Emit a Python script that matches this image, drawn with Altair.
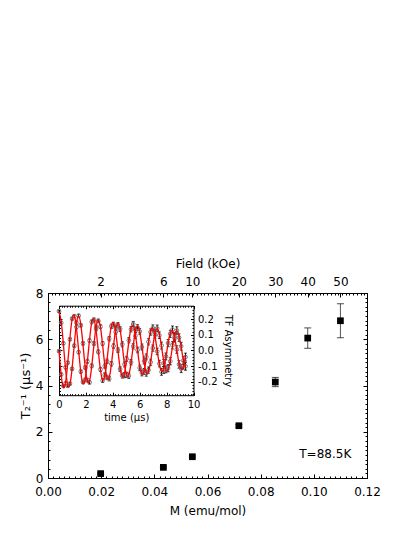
import altair as alt
import pandas as pd

# ---------------- main panel data ----------------
M_emu = [0.0198, 0.0434, 0.0543, 0.0718, 0.0855, 0.0977, 0.1100]
field_kOe = [2, 6, 10, 20, 30, 40, 50]
relax = [0.19, 0.46, 0.92, 2.26, 4.15, 6.05, 6.80]
relax_err = [0.03, 0.03, 0.04, 0.05, 0.20, 0.44, 0.735]
note_text = ["T=88.5K"]
note_M = [0.1043]
note_r = [0.865]

# ---------------- inset data ----------------
t_us = [0.0, 0.162, 0.324, 0.487, 0.649, 0.811, 0.973, 1.136, 1.298, 1.46,
        1.622, 1.784, 1.947, 2.109, 2.271, 2.433, 2.596, 2.758, 2.92, 3.082,
        3.244, 3.407, 3.569, 3.731, 3.893, 4.056, 4.218, 4.38, 4.542, 4.704,
        4.867, 5.029, 5.191, 5.353, 5.516, 5.678, 5.84, 6.002, 6.164, 6.327,
        6.489, 6.651, 6.813, 6.976, 7.138, 7.3, 7.462, 7.624, 7.787, 7.949,
        8.111, 8.273, 8.436, 8.598, 8.76, 8.922, 9.084, 9.247, 9.409]
asym_A = [0.250, 0.177, 0.045, -0.108, -0.225, -0.212, -0.117, 0.030, 0.177,
          0.221, 0.160, 0.045, -0.109, -0.189, -0.203, -0.098, 0.044, 0.149,
          0.188, 0.152, 0.044, -0.100, -0.172, -0.180, -0.085, 0.028, 0.142,
          0.163, 0.136, 0.039, -0.089, -0.155, -0.161, -0.075, 0.026, 0.131,
          0.146, 0.121, 0.022, -0.067, -0.145, -0.125, -0.075, 0.015, 0.113,
          0.141, 0.097, 0.031, -0.080, -0.120, -0.113, -0.069, 0.033, 0.089,
          0.127, 0.082, 0.027, -0.064, -0.101]
asym_B = [-0.004, -0.153, -0.226, -0.210, -0.078, 0.071, 0.202, 0.218, 0.149,
          -0.011, -0.135, -0.201, -0.187, -0.070, 0.063, 0.182, 0.195, 0.137,
          -0.009, -0.121, -0.191, -0.155, -0.069, 0.075, 0.154, 0.166, 0.118,
          0.002, -0.119, -0.160, -0.158, -0.053, 0.065, 0.135, 0.168, 0.094,
          0.003, -0.111, -0.143, -0.134, -0.041, 0.055, 0.117, 0.143, 0.100,
          -0.006, -0.084, -0.136, -0.125, -0.038, 0.047, 0.106, 0.133, 0.077,
          0.006, -0.089, -0.116, -0.094, -0.042]
fit_A = [0.245, 0.185, 0.042, -0.118, -0.219, -0.216, -0.114, 0.039, 0.170,
         0.219, 0.165, 0.037, -0.105, -0.195, -0.193, -0.101, 0.035, 0.151,
         0.195, 0.148, 0.033, -0.094, -0.174, -0.172, -0.090, 0.031, 0.135,
         0.174, 0.132, 0.030, -0.084, -0.156, -0.154, -0.081, 0.028, 0.121,
         0.155, 0.118, 0.026, -0.075, -0.139, -0.137, -0.072, 0.025, 0.108,
         0.139, 0.105, 0.024, -0.067, -0.124, -0.122, -0.064, 0.022, 0.096,
         0.124, 0.094, 0.021, -0.060, -0.111]
fit_B = [0.0, -0.156, -0.235, -0.204, -0.080, 0.079, 0.197, 0.221, 0.142,
         0.0, -0.139, -0.210, -0.182, -0.071, 0.070, 0.176, 0.197, 0.127,
         0.0, -0.124, -0.187, -0.163, -0.063, 0.063, 0.157, 0.176, 0.113,
         0.0, -0.111, -0.167, -0.145, -0.057, 0.056, 0.140, 0.157, 0.101,
         0.0, -0.099, -0.149, -0.130, -0.051, 0.050, 0.125, 0.140, 0.090,
         0.0, -0.088, -0.133, -0.116, -0.045, 0.045, 0.111, 0.125, 0.081,
         0.0, -0.079, -0.119, -0.103, -0.040]
asym_err = [0.008, 0.008, 0.008, 0.009, 0.009, 0.009, 0.009, 0.010, 0.010, 0.010,
            0.010, 0.011, 0.011, 0.011, 0.011, 0.012, 0.012, 0.012, 0.012, 0.013,
            0.013, 0.013, 0.014, 0.014, 0.014, 0.014, 0.015, 0.015, 0.015, 0.016,
            0.016, 0.016, 0.017, 0.017, 0.017, 0.018, 0.018, 0.018, 0.019, 0.019,
            0.019, 0.020, 0.020, 0.020, 0.021, 0.021, 0.021, 0.022, 0.022, 0.022,
            0.023, 0.023, 0.023, 0.024, 0.024, 0.024, 0.025, 0.025, 0.025]

# ---------------- tables ----------------
main_df = pd.DataFrame({
    "M": M_emu, "field": field_kOe, "r": relax,
    "lo": [r - e for r, e in zip(relax, relax_err)],
    "hi": [r + e for r, e in zip(relax, relax_err)],
})
note_df = pd.DataFrame({"M": note_M, "r": note_r, "txt": note_text})
rows = []
for name, ys, fs in (("A", asym_A, fit_A), ("B", asym_B, fit_B)):
    for t, y, f, e in zip(t_us, ys, fs, asym_err):
        rows.append({"t": t, "a": y, "fit": f, "lo": y - e, "hi": y + e, "s": name})
inset_df = pd.DataFrame(rows)

# ---------------- geometry ----------------
W, H = 319, 185
IX0, IX1 = 11.0, 145.5     # inset frame (plot pixels)
IY0, IY1 = 12.7, 102.2
FONT = "DejaVu Sans"


def xm():
    return alt.Scale(domain=[0, 0.12], nice=False, zero=False)


def ym():
    return alt.Scale(domain=[0, 8], nice=False, zero=False)


def xi():
    return alt.Scale(domain=[0, 10], range=[IX0, IX1], nice=False, zero=False)


def yi():
    return alt.Scale(domain=[-0.285, 0.285], range=[IY1, IY0], nice=False, zero=False)


def ax(orient, values, tick, offset, **kw):
    base = dict(orient=orient, values=values, tickSize=tick, offset=offset,
                domain=False, grid=False, labels=False, title=None,
                labelFlush=False, labelOverlap=False, tickColor="black")
    base.update(kw)
    return alt.Axis(**base)


def ghost(df, xf, yf, xs, ys, xa, ya):
    return alt.Chart(df).mark_point(opacity=0).encode(
        x=alt.X(xf, type="quantitative", scale=xs, axis=xa),
        y=alt.Y(yf, type="quantitative", scale=ys, axis=ya),
    )


# tick positions
maj_x = [0, 0.02, 0.04, 0.06, 0.08, 0.10, 0.12]
min_x = [round(i * 0.002, 4) for i in range(61)]
top_min = [round(i * 0.0014, 5) for i in range(86)]
maj_y = [0, 2, 4, 6, 8]
min_yl = [round(i * 0.4, 2) for i in range(21)]
min_yr = [round(i * 0.2, 2) for i in range(41)]
ix_maj = [0, 2, 4, 6, 8, 10]
ix_min = [round(i * 0.2, 1) for i in range(51)]
iy_maj = [-0.2, -0.1, 0.0, 0.1, 0.2]
iy_min = [round(-0.28 + i * 0.02, 2) for i in range(29)]

field_expr = "".join(
    f"abs(datum.value - {m}) < 1e-6 ? '{f}' : " for m, f in zip(M_emu, field_kOe)
) + "''"
minus_expr = "replace(format(datum.value, '.1f'), '\u2212', '-')"

layers = []

# ----- main axes -----
layers.append(ghost(main_df, "M", "r", xm(), ym(),
    ax("bottom", maj_x, 4, -4, labels=True, format=".2f", labelPadding=8,
       labelFontSize=12, title="M (emu/mol)", titleFontSize=12, titlePadding=8),
    ax("left", maj_y, 4, -4, labels=True, format="d", labelPadding=5,
       labelFontSize=12, title="T₂⁻¹ (μs⁻¹)", titleFontSize=13, titlePadding=3)))
layers.append(ghost(main_df, "M", "r", xm(), ym(),
    ax("bottom", min_x, 2, -2), ax("left", min_yl, 2, -2)))
layers.append(ghost(main_df, "M", "r", xm(), ym(),
    ax("top", M_emu, 4, -4, labels=True, labelExpr=field_expr, labelPadding=5,
       labelFontSize=12, title="Field (kOe)", titleFontSize=12, titlePadding=5),
    ax("right", maj_y, 4, -4)))
layers.append(ghost(main_df, "M", "r", xm(), ym(),
    ax("top", top_min, 2, -2), ax("right", min_yr, 2, -2)))

# ----- main data -----
layers.append(alt.Chart(main_df).mark_rule(color="#555555", strokeWidth=1).encode(
    x=alt.X("M:Q", scale=xm(), axis=None),
    y=alt.Y("lo:Q", scale=ym(), axis=None), y2="hi:Q"))
for fld in ("lo", "hi"):
    layers.append(alt.Chart(main_df).mark_tick(
        orient="horizontal", color="black", size=7, thickness=1).encode(
        x=alt.X("M:Q", scale=xm(), axis=None),
        y=alt.Y(f"{fld}:Q", scale=ym(), axis=None)))
layers.append(alt.Chart(main_df).mark_square(color="black", size=45, opacity=1).encode(
    x=alt.X("M:Q", scale=xm(), axis=None),
    y=alt.Y("r:Q", scale=ym(), axis=None)))
layers.append(alt.Chart(note_df).mark_text(
    font=FONT, fontSize=12, color="black", align="center", baseline="alphabetic").encode(
    x=alt.X("M:Q", scale=xm(), axis=None),
    y=alt.Y("r:Q", scale=ym(), axis=None), text="txt:N"))

# ----- inset frame and axes -----
layers.append(ghost(inset_df, "t", "a", xi(), yi(),
    ax("bottom", ix_maj, 0, IY1 - H, domain=True, ticks=False, domainColor="black"),
    ax("left", iy_maj, 0, -IX0, domain=True, ticks=False, domainColor="black")))
layers.append(ghost(inset_df, "t", "a", xi(), yi(),
    ax("top", ix_maj, 0, -IY0, domain=True, ticks=False, domainColor="black"),
    ax("right", iy_maj, 0, IX1 - W, domain=True, ticks=False, domainColor="black")))
layers.append(ghost(inset_df, "t", "a", xi(), yi(),
    ax("bottom", ix_maj, 3, IY1 - 3 - H, labels=True, format="d", labelPadding=4,
       labelFontSize=10, title="time (μs)", titleFontSize=10, titlePadding=3),
    ax("right", iy_maj, 3, IX1 - 3 - W, labels=True, labelExpr=minus_expr, labelPadding=4,
       labelFontSize=10, title="TF Asymmetry", titleFontSize=10, titlePadding=5)))
layers.append(ghost(inset_df, "t", "a", xi(), yi(),
    ax("top", ix_maj, 3, -(IY0 + 3)), ax("left", iy_maj, 3, -(IX0 + 3))))
layers.append(ghost(inset_df, "t", "a", xi(), yi(),
    ax("bottom", ix_min, 1.5, IY1 - 1.5 - H), ax("right", iy_min, 1.5, IX1 - 1.5 - W)))
layers.append(ghost(inset_df, "t", "a", xi(), yi(),
    ax("top", ix_min, 1.5, -(IY0 + 1.5)), ax("left", iy_min, 1.5, -(IX0 + 1.5))))

# ----- inset data -----
layers.append(alt.Chart(inset_df).mark_rule(color="black", strokeWidth=1).encode(
    x=alt.X("t:Q", scale=xi(), axis=None),
    y=alt.Y("lo:Q", scale=yi(), axis=None), y2="hi:Q"))
for fld in ("lo", "hi"):
    layers.append(alt.Chart(inset_df).mark_tick(
        orient="horizontal", color="black", size=3, thickness=1).encode(
        x=alt.X("t:Q", scale=xi(), axis=None),
        y=alt.Y(f"{fld}:Q", scale=yi(), axis=None)))
layers.append(alt.Chart(inset_df).mark_point(
    shape="circle", filled=False, color="#777777", size=14, strokeWidth=1, opacity=1).encode(
    x=alt.X("t:Q", scale=xi(), axis=None),
    y=alt.Y("a:Q", scale=yi(), axis=None)))
layers.append(alt.Chart(inset_df).mark_line(
    color="#ff0000", strokeWidth=1.3, interpolate="natural").encode(
    x=alt.X("t:Q", scale=xi(), axis=None),
    y=alt.Y("fit:Q", scale=yi(), axis=None),
    detail="s:N"))

chart = alt.layer(*layers).resolve_scale(
    x="independent", y="independent"
).properties(
    width=W, height=H,
    autosize=alt.AutoSizeParams(type="none"),
    padding={"left": 40, "top": 285, "right": 30, "bottom": 44},
    background="white",
).configure_view(
    stroke="black", strokeWidth=1
).configure_axis(
    labelFont=FONT, titleFont=FONT, labelColor="black", titleColor="black",
    titleFontWeight="normal"
)

chart.save("out.html", embed_options={"renderer": "svg", "actions": False})
